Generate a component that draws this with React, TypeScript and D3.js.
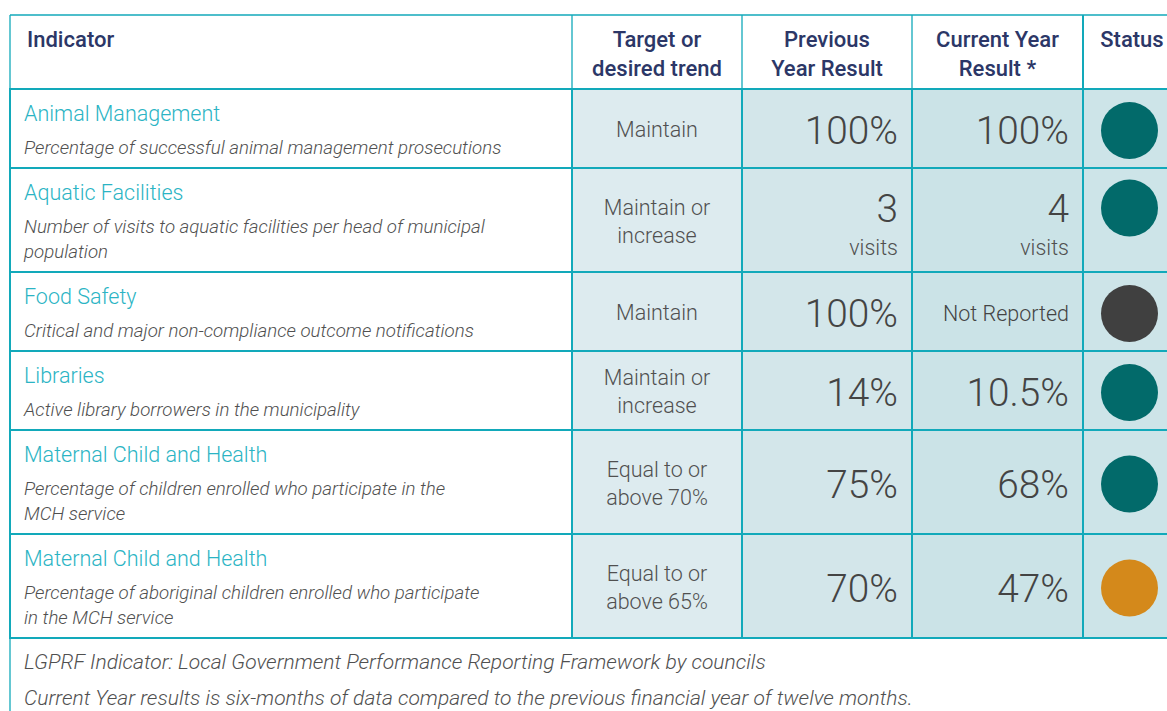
import { useMemo } from "react";
import * as d3 from "d3";

// table data
const indicators = [
  "Animal Management",
  "Aquatic Facilities",
  "Food Safety",
  "Libraries",
  "Maternal Child and Health",
  "Maternal Child and Health",
];
const descriptions = [
  ["Percentage of successful animal management prosecutions"],
  ["Number of visits to aquatic facilities per head of municipal", "population"],
  ["Critical and major non-compliance outcome notifications"],
  ["Active library borrowers in the municipality"],
  ["Percentage of children enrolled who participate in the", "MCH service"],
  ["Percentage of aboriginal children enrolled who participate", "in the MCH service"],
];
const targets = [
  ["Maintain"],
  ["Maintain or", "increase"],
  ["Maintain"],
  ["Maintain or", "increase"],
  ["Equal to or", "above 70%"],
  ["Equal to or", "above 65%"],
];
const previousResults = ["100%", "3", "100%", "14%", "75%", "70%"];
const currentResults = ["100%", "4", "Not Reported", "10.5%", "68%", "47%"];
const resultUnits = ["", "visits", "", "", "", ""];
const statuses = ["met", "met", "none", "met", "met", "partial"];
const headers = [["Indicator"], ["Target or", "desired trend"], ["Previous", "Year Result"], ["Current Year", "Result *"], ["Status"]];
const footnotes = [
  "LGPRF Indicator: Local Government Performance Reporting Framework by councils",
  "Current Year results is six-months of data compared to the previous financial year of twelve months.",
];

const width = 1167;
const height = 711;
const colEdges = [10, 572, 742, 912, 1083, 1181];
const headerTop = 15;
const headerBottom = 89;
const border = "#12a9ba";
const colFills = ["#ffffff", "#ddebef", "#d3e6ea", "#cbe3e7", "#cde4e8"];
const statusColor = d3.scaleOrdinal<string, string>()
  .domain(["met", "none", "partial"])
  .range(["#026a6a", "#404040", "#d4891b"]);

const font = "Roboto, sans-serif";
const textGrey = "#505050";

export default function App() {
  // row heights grow with the number of description lines
  const rows = useMemo(() => {
    let y = headerBottom;
    return indicators.map((name, i) => {
      const h = 79 + 25 * (descriptions[i].length - 1);
      const r = { i, name, top: y, h };
      y += h;
      return r;
    });
  }, []);
  const tableBottom = rows[rows.length - 1].top + rows[rows.length - 1].h;

  return (
    <svg width={width} height={height} style={{ position: "absolute", left: 0, top: 0 }} fontFamily={font}>
      <rect width={width} height={height} fill="#fff" />

      {/* cell fills */}
      {rows.map(r => colFills.slice(1).map((c, k) => (
        <rect key={`f${r.i}-${k}`} x={colEdges[k + 1]} y={r.top} width={colEdges[k + 2] - colEdges[k + 1]} height={r.h} fill={c} />
      )))}

      {/* header */}
      {headers.map((lines, k) => lines.map((t, j) => (
        <text
          key={`h${k}-${j}`}
          x={k === 0 ? 27 : (colEdges[k] + colEdges[k + 1]) / 2}
          y={39 + j * 29}
          dy="0.35em"
          textAnchor={k === 0 ? "start" : "middle"}
          fontSize={22}
          fontWeight={500}
          fontFamily="'Roboto Medium', Roboto, sans-serif"
          fill="#2c3767"
        >{t}</text>
      )))}

      {/* rows */}
      {rows.map(r => {
        const cy = r.top + r.h / 2 + 1;
        const numY = resultUnits[r.i] ? cy - 13 : cy + 1;
        const tLines = targets[r.i];
        return (
          <g key={`r${r.i}`}>
            <text x={24} y={r.top + 24} dy="0.35em" fontSize={21.5} fontWeight={300} fill="#2bb4c4">{r.name}</text>
            {descriptions[r.i].map((d, j) => (
              <text key={j} x={24} y={r.top + 58 + j * 25} dy="0.35em" fontSize={18.7} fontWeight={300} fontStyle="italic" fill={textGrey}>{d}</text>
            ))}
            {tLines.map((t, j) => (
              <text key={`t${j}`} x={(colEdges[1] + colEdges[2]) / 2} y={cy + (j - (tLines.length - 1) / 2) * 28} dy="0.35em" textAnchor="middle" fontSize={21.5} fontWeight={300} fill={textGrey}>{t}</text>
            ))}
            {[previousResults[r.i], currentResults[r.i]].map((v, k) => {
              const big = /\d/.test(v);
              return (
                <g key={`v${k}`}>
                  <text x={colEdges[k + 3] - 14} y={numY} dy="0.35em" textAnchor="end" fontSize={big ? 38.8 : 21.5} fontWeight={300} fill="#444">{v}</text>
                  {resultUnits[r.i] && (
                    <text x={colEdges[k + 3] - 14} y={numY + 39} dy="0.35em" textAnchor="end" fontSize={21.5} fontWeight={300} fill={textGrey}>{resultUnits[r.i]}</text>
                  )}
                </g>
              );
            })}
            <circle cx={1129.5} cy={numY} r={28.5} fill={statusColor(statuses[r.i])} />
          </g>
        );
      })}

      {/* header grid, thin */}
      <line x1={colEdges[0]} x2={width} y1={headerTop} y2={headerTop} stroke={border} strokeWidth={1.3} />
      {colEdges.slice(0, 4).map((x, k) => (
        <line key={`hv${k}`} x1={x} x2={x} y1={headerTop} y2={headerBottom} stroke={border} strokeWidth={1.3} />
      ))}
      <line x1={colEdges[4]} x2={colEdges[4]} y1={headerTop} y2={headerBottom} stroke={border} strokeWidth={2} />

      {/* body grid, thick */}
      {[headerBottom, ...rows.map(r => r.top + r.h)].map((y, k) => (
        <line key={`bh${k}`} x1={colEdges[0] - 1} x2={width} y1={y} y2={y} stroke={border} strokeWidth={2.2} />
      ))}
      {colEdges.slice(0, 5).map((x, k) => (
        <line key={`bv${k}`} x1={x} x2={x} y1={headerBottom} y2={tableBottom} stroke={border} strokeWidth={2} />
      ))}
      <line x1={colEdges[0]} x2={colEdges[0]} y1={tableBottom} y2={height} stroke={border} strokeWidth={1.3} />

      {/* footnotes */}
      {footnotes.map((t, j) => (
        <text key={`n${j}`} x={24} y={662 + j * 36} dy="0.35em" fontSize={21} fontWeight={300} fontStyle="italic" fill={textGrey}>{t}</text>
      ))}
    </svg>
  );
}
